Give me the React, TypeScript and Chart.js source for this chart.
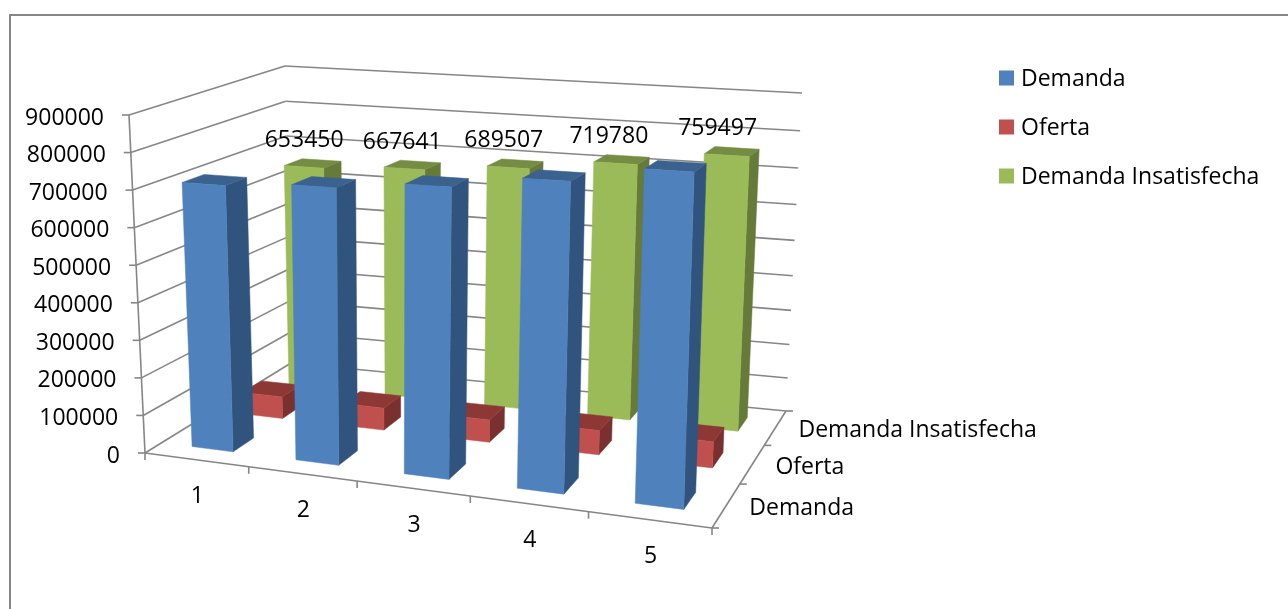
import React, { useEffect, useRef } from "react";
import { Chart, registerables } from "chart.js";

Chart.register(...registerables);

// Chart values
const periods = ["1", "2", "3", "4", "5"];
const seriesNames = ["Demanda", "Oferta", "Demanda Insatisfecha"];
const demanda = [710000, 724000, 746000, 780000, 822000];
const oferta = [62000, 62000, 62000, 66000, 70000];
const demandaInsatisfecha = [653450, 667641, 689507, 719780, 759497];

// Face colours per series: front, side, top
const frontColors = ["#4F81BD", "#C0504D", "#9BBB59"];
const sideColors = ["#31547E", "#7A302E", "#667A3A"];
const topColors = ["#3B628F", "#8E3836", "#748D43"];
const seriesValues = [demanda, oferta, demandaInsatisfecha];

const FONT = '"Open Sans", sans-serif';
const AXIS_GRAY = "#868686";
const BAR_FRACTION = 0.4;

type Pt = [number, number];

// Camera frame of the 3D box, in canvas pixels. Order: front-left, front-right, back-right, back-left.
const floorFrame: Pt[] = [[145, 453], [712, 528], [786, 411], [291, 363]];
const ceilingFrame: Pt[] = [[129, 115], [724, 148], [802, 93], [285, 66]];
// Softens the horizontal foreshortening of each plane
const floorSkew = 0.067;
const ceilingSkew = -0.045;
// Height compression toward the back wall
const depthCompression = 0.08;

// Perspective map of the unit square onto a quadrilateral
function homography(q: Pt[]) {
  const [[x0, y0], [x1, y1], [x2, y2], [x3, y3]] = q;
  const dx1 = x1 - x2, dx2 = x3 - x2, sx = x0 - x1 + x2 - x3;
  const dy1 = y1 - y2, dy2 = y3 - y2, sy = y0 - y1 + y2 - y3;
  const det = dx1 * dy2 - dx2 * dy1;
  const g = (sx * dy2 - dx2 * sy) / det;
  const h = (dx1 * sy - sx * dy1) / det;
  const a = x1 - x0 + g * x1, b = x3 - x0 + h * x3;
  const d = y1 - y0 + g * y1, e = y3 - y0 + h * y3;
  return (u: number, v: number): Pt => {
    const w = g * u + h * v + 1;
    return [(a * u + b * v + x0) / w, (d * u + e * v + y0) / w];
  };
}
const floorMap = homography(floorFrame);
const ceilingMap = homography(ceilingFrame);

// u: along the periods, v: along the series depth, t: height as a share of the value axis
function project(u: number, v: number, t: number): Pt {
  const a = floorMap(u + floorSkew * u * (1 - u), v);
  const b = ceilingMap(u + ceilingSkew * u * (1 - u), v);
  const w = 1 + depthCompression * v;
  const k = t <= 0 ? 0 : t / (t + (1 - t) * w);
  return [a[0] + (b[0] - a[0]) * k, a[1] + (b[1] - a[1]) * k];
}

function polygon(ctx: CanvasRenderingContext2D, pts: Pt[], fill: string) {
  ctx.beginPath();
  pts.forEach((p, i) => (i ? ctx.lineTo(p[0], p[1]) : ctx.moveTo(p[0], p[1])));
  ctx.closePath();
  ctx.fillStyle = fill;
  ctx.fill();
  ctx.strokeStyle = fill;
  ctx.lineWidth = 0.5;
  ctx.stroke();
}

function line(ctx: CanvasRenderingContext2D, a: Pt, b: Pt) {
  ctx.beginPath();
  ctx.moveTo(a[0], a[1]);
  ctx.lineTo(b[0], b[1]);
  ctx.stroke();
}

const bars3d = {
  id: "bars3d",
  // The flat bars are replaced by projected boxes driven by the same scales
  beforeDatasetsDraw(chart: any) {
    const ctx: CanvasRenderingContext2D = chart.ctx;
    const { x, y, z } = chart.scales;
    const share = (s: any, i: number) => (s.getPixelForValue(i) - s.left) / s.width;
    const height = (value: number) => (y.bottom - y.getPixelForValue(value)) / (y.bottom - y.top);
    const cellU = 1 / periods.length;
    const cellV = 1 / seriesNames.length;

    ctx.save();
    // Outer frame of the chart object
    ctx.strokeStyle = AXIS_GRAY;
    ctx.lineWidth = 2;
    line(ctx, [10, 609], [10, 15]);
    line(ctx, [9, 15], [1288, 15]);

    // Walls, floor edges and ticks
    ctx.lineWidth = 1.6;
    for (const tick of y.ticks) {
      const t = height(tick.value);
      const front = project(0, 0, t);
      const back = project(0, 1, t);
      const right = project(1, 1, t);
      line(ctx, front, back);
      line(ctx, back, right);
      line(ctx, [front[0] - 7, front[1]], front);
    }
    line(ctx, project(0, 0, 0), project(0, 0, 1));
    line(ctx, project(0, 0, 0), project(1, 0, 0));
    line(ctx, project(1, 0, 0), project(1, 1, 0));
    for (let i = 0; i <= periods.length; i++) {
      const p = project(i * cellU, 0, 0);
      line(ctx, p, [p[0], p[1] + 7]);
    }
    for (let j = 0; j <= seriesNames.length; j++) {
      const p = project(1, j * cellV, 0);
      line(ctx, p, [p[0] + 7, p[1]]);
    }

    // Boxes, back series first so nearer ones overlap them
    chart.data.datasets
      .map((ds: any, j: number) => ({ ds, j }))
      .reverse()
      .forEach(({ ds, j }: any) => {
        const vc = share(z, j);
        const v0 = vc - (cellV * BAR_FRACTION) / 2;
        const v1 = vc + (cellV * BAR_FRACTION) / 2;
        ds.data.forEach((value: number, i: number) => {
          const uc = share(x, i);
          const u0 = uc - (cellU * BAR_FRACTION) / 2;
          const u1 = uc + (cellU * BAR_FRACTION) / 2;
          const t = height(value);
          polygon(ctx, [project(u1, v0, 0), project(u1, v1, 0), project(u1, v1, t), project(u1, v0, t)], sideColors[j]);
          polygon(ctx, [project(u0, v0, t), project(u1, v0, t), project(u1, v1, t), project(u0, v1, t)], topColors[j]);
          polygon(ctx, [project(u0, v0, 0), project(u1, v0, 0), project(u1, v0, t), project(u0, v0, t)], frontColors[j]);
        });
      });

    // Text
    ctx.fillStyle = "#000000";
    ctx.font = `23px ${FONT}`;
    ctx.textBaseline = "middle";
    ctx.textAlign = "right";
    for (const tick of y.ticks) {
      const p = project(0, 0, height(tick.value));
      ctx.fillText(String(tick.value), p[0] - 25, p[1] + 3);
    }
    ctx.textAlign = "center";
    periods.forEach((label, i) => {
      const p = project(share(x, i), 0, 0);
      ctx.fillText(label, p[0] + 1, p[1] + 37);
    });
    ctx.textAlign = "left";
    seriesNames.forEach((label, j) => {
      const p = project(1, share(z, j), 0);
      ctx.fillText(label, p[0] + 23, p[1] + 3);
    });

    // Value labels of the back series
    const last = seriesNames.length - 1;
    ctx.textAlign = "center";
    demandaInsatisfecha.forEach((value, i) => {
      const u = share(x, i);
      const p = project(u, share(z, last), height(value));
      ctx.fillText(String(value), p[0] - 8 - 7 * u, p[1] - 23);
    });

    // Legend
    seriesNames.forEach((label, j) => {
      const cy = 78 + j * 49;
      ctx.fillStyle = frontColors[j];
      ctx.fillRect(999, cy - 7.5, 15, 15);
      ctx.fillStyle = "#000000";
      ctx.textAlign = "left";
      ctx.fillText(label, 1021, cy + 1);
    });
    ctx.restore();
    return false;
  },
};

export default function App() {
  const ref = useRef<HTMLCanvasElement>(null);
  useEffect(() => {
    const chart = new Chart(ref.current!, {
      type: "bar",
      data: {
        labels: periods,
        datasets: seriesNames.map((label, j) => ({
          label,
          data: seriesValues[j],
          backgroundColor: frontColors[j],
        })),
      },
      options: {
        animation: false,
        responsive: false,
        devicePixelRatio: 1,
        layout: { padding: { left: 145, top: 115, right: 500, bottom: 80 } },
        plugins: { legend: { display: false }, tooltip: { enabled: false } },
        scales: {
          x: { display: false, offset: true },
          y: { display: false, min: 0, max: 900000, ticks: { stepSize: 100000 } },
          z: { type: "category", axis: "x", display: false, offset: true, labels: seriesNames },
        },
      } as any,
      plugins: [bars3d],
    });
    return () => chart.destroy();
  }, []);
  return (
    <canvas
      ref={ref}
      width={1288}
      height={609}
      style={{ position: "fixed", left: 0, top: 0, display: "block", background: "#ffffff" }}
    />
  );
}
